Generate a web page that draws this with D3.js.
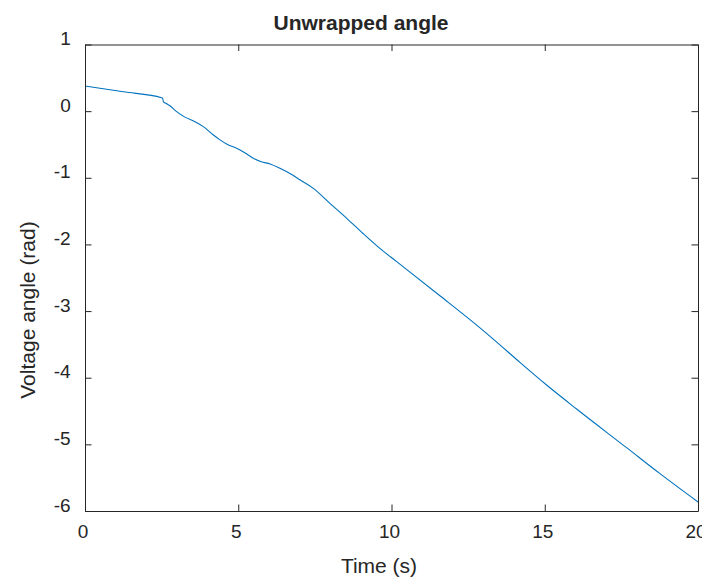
<!DOCTYPE html>
<html>
<head>
<meta charset="utf-8">
<script src="https://cdn.jsdelivr.net/npm/d3@7/dist/d3.min.js"></script>
<style>
  html, body { margin: 0; padding: 0; background: #ffffff; }
  svg { display: block; }
  text { font-family: "Liberation Sans", Arial, Helvetica, sans-serif; fill: #262626; }
</style>
</head>
<body>
<svg id="chart" width="702" height="581"></svg>
<script>
// ---- data ----
const timeS = [0, 1.25, 2.5, 2.53, 2.56, 2.64, 2.77, 2.99, 3.26, 3.59, 3.86, 4.19, 4.38, 4.65, 4.95,
  5.2, 5.49, 5.75, 6.04, 6.36, 6.7, 7.01, 7.45, 7.99, 8.54, 9.08, 9.62, 10.17, 11.58,
  12.67, 13.32, 14.19, 15.06, 16.04, 17.67, 18.76, 20];
const angleRad = [0.378, 0.29, 0.202, 0.195, 0.14, 0.118, 0.08, -0.008, -0.09, -0.158, -0.233, -0.358, -0.423, -0.50, -0.556,
  -0.62, -0.706, -0.76, -0.792, -0.858, -0.94, -1.03, -1.158, -1.383, -1.608, -1.84, -2.06, -2.259, -2.77,
  -3.17, -3.42, -3.77, -4.11, -4.47, -5.05, -5.44, -5.865];
const xTicks = [0, 5, 10, 15, 20];
const yTicks = [1, 0, -1, -2, -3, -4, -5, -6];
const titleText = "Unwrapped angle";
const xLabelText = "Time (s)";
const yLabelText = "Voltage angle (rad)";

const points = timeS.map((t, i) => ({ t, v: angleRad[i] }));

const svg = d3.select("#chart");
const L = 85, R = 698, T = 44.5, B = 511;
const x = d3.scaleLinear().domain([0, 20]).range([L, R]);
const y = d3.scaleLinear().domain([-6, 1]).range([B, T]);
const axisColor = "#262626";
const tickLen = 6.5;
const fmt = d => String(d);

// line
const line = d3.line().x(d => x(d.t)).y(d => y(d.v)).curve(d3.curveMonotoneX);
svg.append("path")
  .datum(points)
  .attr("d", line)
  .attr("fill", "none")
  .attr("stroke", "#0072BD")
  .attr("stroke-width", 1.1);

// axes
function styleAxis(g) {
  g.selectAll("path.domain").attr("stroke", axisColor).attr("stroke-width", 1);
  g.selectAll(".tick line").attr("stroke", axisColor).attr("stroke-width", 1);
  g.selectAll(".tick text").attr("fill", axisColor).style("font-size", "19px")
    .style("font-family", '"Liberation Sans", Arial, Helvetica, sans-serif');
}

const gBottom = svg.append("g").attr("transform", `translate(0,${B})`)
  .call(d3.axisBottom(x).tickValues(xTicks).tickFormat(fmt).tickSizeInner(-tickLen).tickSizeOuter(0).tickPadding(27));
styleAxis(gBottom);
gBottom.selectAll(".tick text").attr("dy", "0").attr("x", -2.5);

const gTop = svg.append("g").attr("transform", `translate(0,${T})`)
  .call(d3.axisTop(x).tickValues(xTicks).tickFormat("").tickSizeInner(-tickLen).tickSizeOuter(0));
styleAxis(gTop);

const gLeft = svg.append("g").attr("transform", `translate(${L},0)`)
  .call(d3.axisLeft(y).tickValues(yTicks).tickFormat(fmt).tickSizeInner(-tickLen).tickSizeOuter(0).tickPadding(14.3));
styleAxis(gLeft);
gLeft.selectAll(".tick text").attr("dy", "0");

const gRight = svg.append("g").attr("transform", `translate(${R},0)`)
  .call(d3.axisRight(y).tickValues(yTicks).tickFormat("").tickSizeInner(-tickLen).tickSizeOuter(0));
styleAxis(gRight);

// labels
svg.append("text")
  .attr("x", 361).attr("y", 30)
  .attr("text-anchor", "middle")
  .style("font-size", "21px").style("font-weight", "bold")
  .attr("fill", "#000")
  .text(titleText);

svg.append("text")
  .attr("x", 379).attr("y", 572.5)
  .attr("text-anchor", "middle")
  .style("font-size", "21px")
  .text(xLabelText);

svg.append("text")
  .attr("transform", "translate(34.5,310) rotate(-90)")
  .attr("text-anchor", "middle")
  .style("font-size", "21px")
  .text(yLabelText);
</script>
</body>
</html>
